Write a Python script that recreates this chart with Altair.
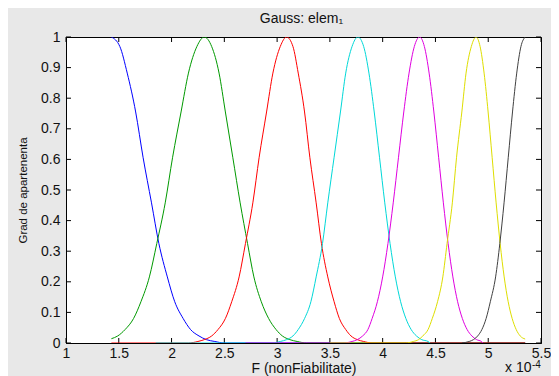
import altair as alt
import pandas as pd

FONT = "Liberation Sans"

curve_names = ["mf1", "mf2", "mf3", "mf4", "mf5", "mf6", "mf7"]
curve_colors = ["#0000ff", "#009900", "#ff0000", "#00d8d8", "#e000e0", "#dede00", "#404040"]

blue_x = [1.43, 1.51, 1.58, 1.66, 1.73, 1.81, 1.88, 1.96, 2.03, 2.11, 2.18, 2.26, 2.33, 2.41, 2.50, 5.35]
blue_y = [1.0, .969, .882, .755, .607, .458, .325, .216, .135, .080, .044, .023, .011, .005, 0, 0]

green_x = [1.43, 1.49, 1.56, 1.64, 1.71, 1.79, 1.86, 1.94, 2.01, 2.09, 2.16, 2.24, 2.31,
           2.38, 2.45, 2.51, 2.58, 2.65, 2.72, 2.78, 2.85, 2.92, 2.99, 3.05, 3.12, 3.19, 3.28, 5.35]
green_y = [.014, .023, .044, .080, .135, .216, .325, .458, .607, .755, .882, .969, 1.0,
           .969, .882, .755, .607, .458, .325, .216, .135, .080, .044, .023, .011, .005, 0, 0]

red_x = [1.43, 2.16, 2.25, 2.31, 2.38, 2.44, 2.51, 2.57, 2.64, 2.70, 2.77, 2.83, 2.90, 2.96, 3.03, 3.09,
         3.15, 3.20, 3.26, 3.31, 3.37, 3.42, 3.48, 3.54, 3.59, 3.65, 3.70, 3.76, 3.82, 3.90, 5.35]
red_y = [0, 0, .005, .011, .023, .044, .080, .135, .216, .325, .458, .607, .755, .882, .969, 1.0,
         .969, .882, .755, .607, .458, .325, .216, .135, .080, .044, .023, .011, .005, 0, 0]

cyan_x = [1.85, 2.95, 3.03, 3.09, 3.15, 3.20, 3.26, 3.32, 3.37, 3.43, 3.48, 3.54, 3.60, 3.65, 3.71, 3.765,
          3.82, 3.87, 3.92, 3.97, 4.02, 4.07, 4.12, 4.17, 4.22, 4.27, 4.32, 4.37, 4.43, 4.45]
cyan_y = [0, 0, .005, .011, .023, .044, .080, .135, .216, .325, .458, .607, .755, .882, .969, 1.0,
          .969, .882, .755, .607, .458, .325, .216, .135, .080, .044, .023, .011, .005, 0]

magenta_x = [2.70, 3.63, 3.71, 3.76, 3.81, 3.86, 3.90, 3.95, 4.00, 4.05, 4.10, 4.15, 4.20, 4.25, 4.30, 4.35,
             4.395, 4.44, 4.485, 4.53, 4.575, 4.62, 4.665, 4.71, 4.755, 4.80, 4.845, 4.89, 4.935, 4.95]
magenta_y = [0, 0, .005, .011, .023, .044, .080, .135, .216, .325, .458, .607, .755, .882, .969, 1.0,
             .969, .882, .755, .607, .458, .325, .216, .135, .080, .044, .023, .011, .005, 0]

yellow_x = [3.50, 4.22, 4.29, 4.34, 4.38, 4.43, 4.47, 4.52, 4.57, 4.61, 4.66, 4.70, 4.75, 4.79, 4.84, 4.885,
            4.923, 4.961, 4.999, 5.037, 5.075, 5.113, 5.151, 5.189, 5.227, 5.265, 5.303, 5.35]
yellow_y = [0, 0, .005, .011, .023, .044, .080, .135, .216, .325, .458, .607, .755, .882, .969, 1.0,
            .969, .882, .755, .607, .458, .325, .216, .135, .080, .044, .023, .013]

black_x = [4.75, 4.82, 4.86, 4.90, 4.94, 4.98, 5.02, 5.07, 5.11, 5.15, 5.19, 5.23, 5.27, 5.31, 5.35]
black_y = [0, .005, .011, .023, .044, .080, .135, .216, .325, .458, .607, .755, .882, .969, 1.0]

x_ticks = [1, 1.5, 2, 2.5, 3, 3.5, 4, 4.5, 5, 5.5]
y_ticks = [0, 0.1, 0.2, 0.3, 0.4, 0.5, 0.6, 0.7, 0.8, 0.9, 1.0]

all_x = [blue_x, green_x, red_x, cyan_x, magenta_x, yellow_x, black_x]
all_y = [blue_y, green_y, red_y, cyan_y, magenta_y, yellow_y, black_y]

rows = []
for name, xs, ys in zip(curve_names, all_x, all_y):
    for a, b in zip(xs, ys):
        rows.append({"x": a, "y": b, "curve": name})
df = pd.DataFrame(rows)

PW, PH = 475, 306
TICK = 5

xscale = alt.Scale(domain=[1, 5.5], nice=False, zero=False)
yscale = alt.Scale(domain=[0, 1], nice=False, zero=False)

x_axis = alt.Axis(
    orient="bottom", values=x_ticks, format=".1~f", grid=False, ticks=False, tickSize=0,
    labelFlush=False, labelOverlap=False,
    labelFont=FONT, labelFontSize=14, labelColor="#111111", labelPadding=3,
    domainColor="black", domainWidth=1,
    title="F (nonFiabilitate)", titleFont=FONT, titleFontSize=14, titleFontWeight="normal",
    titleColor="#111111", titleY=29, titleBaseline="alphabetic")
y_axis = alt.Axis(
    orient="left", values=y_ticks, format=".1~f", grid=False, ticks=False, tickSize=0,
    labelFlush=False, labelOverlap=False,
    labelFont=FONT, labelFontSize=14, labelColor="#111111", labelPadding=6,
    domainColor="black", domainWidth=1,
    title="Grad de apartenenta", titleFont=FONT, titleFontSize=11.5, titleFontWeight="normal",
    titleColor="#111111", titleX=-43, titleBaseline="middle")

main = alt.Chart(df).mark_line(strokeWidth=1, interpolate="monotone", clip=True).encode(
    x=alt.X("x:Q", scale=xscale, axis=x_axis),
    y=alt.Y("y:Q", scale=yscale, axis=y_axis),
    color=alt.Color("curve:N", scale=alt.Scale(domain=curve_names, range=curve_colors), legend=None),
)

xt = pd.DataFrame({"x": x_ticks})
yt = pd.DataFrame({"y": y_ticks})

tick_bottom = alt.Chart(xt).mark_rule(color="black", strokeWidth=1).encode(
    x=alt.X("x:Q", scale=xscale, axis=x_axis), y=alt.value(PH), y2=alt.value(PH - TICK))
tick_top = alt.Chart(xt).mark_rule(color="black", strokeWidth=1).encode(
    x=alt.X("x:Q", scale=xscale, axis=x_axis), y=alt.value(0), y2=alt.value(TICK))
tick_left = alt.Chart(yt).mark_rule(color="black", strokeWidth=1).encode(
    y=alt.Y("y:Q", scale=yscale, axis=y_axis), x=alt.value(0), x2=alt.value(TICK))
tick_right = alt.Chart(yt).mark_rule(color="black", strokeWidth=1).encode(
    y=alt.Y("y:Q", scale=yscale, axis=y_axis), x=alt.value(PW), x2=alt.value(PW - TICK))

title_txt = alt.Chart(pd.DataFrame({"t": ["Gauss: elem\u2081"]})).mark_text(
    font=FONT, fontSize=14, align="center", baseline="alphabetic", color="#111111"
).encode(x=alt.value(PW / 2 - 2), y=alt.value(-14), text="t:N")

mult = alt.Chart(pd.DataFrame({"t": ["x 10"]})).mark_text(
    font=FONT, fontSize=14, align="left", baseline="alphabetic", color="#111111"
).encode(x=alt.value(PW - 36), y=alt.value(PH + 29), text="t:N")

expo = alt.Chart(pd.DataFrame({"t": ["-4"]})).mark_text(
    font=FONT, fontSize=10, align="left", baseline="alphabetic", color="#111111"
).encode(x=alt.value(PW - 9), y=alt.value(PH + 25), text="t:N")

chart = alt.layer(
    tick_bottom, tick_top, tick_left, tick_right, main, title_txt, mult, expo
).properties(
    width=PW, height=PH,
    autosize=alt.AutoSizeParams(type="none"),
    padding={"left": 58, "top": 29, "right": 10, "bottom": 33},
).configure(background="#e8e8e8").configure_view(fill="white", stroke="black", strokeWidth=1)

chart.save("out.html", embed_options={"renderer": "svg", "actions": False})
